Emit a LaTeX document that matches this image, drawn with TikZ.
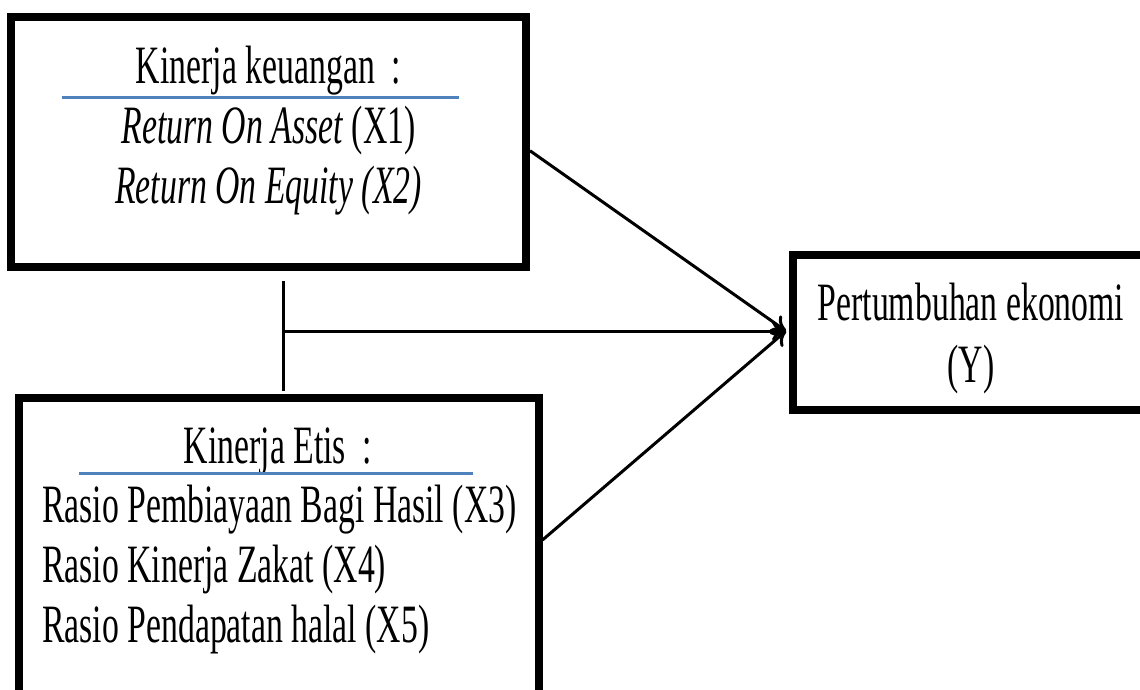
\documentclass[tikz,border=0pt]{standalone}
\usepackage{fontspec}
\setmainfont[FakeStretch=0.625]{Liberation Serif}
\usepackage{tikz}
\usetikzlibrary{arrows.meta,positioning}
\definecolor{rulebl}{RGB}{79,129,189}

\begin{document}
\begin{tikzpicture}[x=1pt,y=-1pt,
	box/.style={draw,line width=8pt,inner sep=0pt},
	txt/.style={anchor=base,inner sep=0pt,font=\fontsize{54}{60}\selectfont},
	conn/.style={line width=3pt},
	bline/.style={draw=rulebl,line width=3pt},
	>={To[length=14pt,width=20pt]}]
	\path[use as bounding box,fill=white] (0,0) rectangle (1140,690);

	\node[box,minimum width=515pt,minimum height=249.5pt] (keu) at (268.5,141.75) {};
	\node[box,minimum width=519.5pt,minimum height=296pt] (etis) at (278.75,546) {};
	\node[box,minimum width=357pt,minimum height=154.5pt] (pert) at (971.5,332.25) {};

	\node[txt] (keuh) at (268.5,84) {Kinerja keuangan~~:};
	\draw[bline] (62,98) -- (459,98);
	\node[txt] (x1) at (268.5,143) {\textit{Return On Asset} (X1)};
	\node[txt] (x2) at (268.5,203) {\textit{Return On Equity (X2)}};

	\node[txt] (etish) at (278,463) {Kinerja Etis~~:};
	\draw[bline] (79,473) -- (473,473);
	\node[txt,anchor=base west] (x3) at (42,522) {Rasio Pembiayaan Bagi Hasil (X3)};
	\node[txt,anchor=base west] (x4) at (42,582) {Rasio Kinerja Zakat (X4)};
	\node[txt,anchor=base west] (x5) at (42,642) {Rasio Pendapatan halal (X5)};

	\node[txt] (y1) at (971,320) {Pertumbuhan ekonomi};
	\node[txt] (y2) at (971,382) {(Y)};

	\coordinate (tip) at (786,331);
	\coordinate (jt) at (283,281);
	\coordinate (jm) at (283,331);
	\coordinate (jb) at (283,391);
	\draw[conn] (jt) -- (jb);
	\draw[conn,->] (jm) -- (tip);
	\draw[conn,->] ([yshift=-9pt]keu.east) -- (tip);
	\draw[conn,->] ([yshift=6pt]etis.east) -- (tip);
\end{tikzpicture}
\end{document}
